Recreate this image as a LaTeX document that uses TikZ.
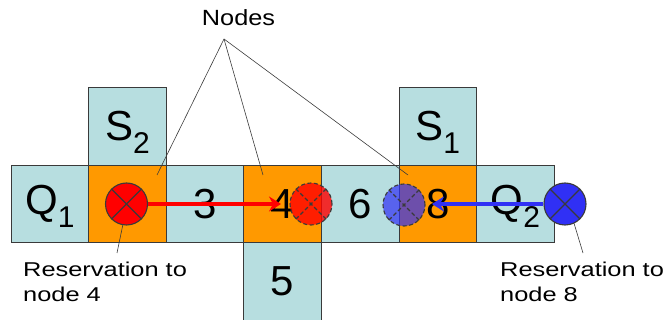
\documentclass[tikz,border=0pt]{standalone}
\usepackage{fontspec}
\setmainfont{Liberation Sans}
\usetikzlibrary{arrows.meta}
\definecolor{cellblue}{HTML}{B7DEE0}
\definecolor{cellorange}{HTML}{FF9900}
\definecolor{resred}{HTML}{FF0000}
\definecolor{resblue}{HTML}{3030F5}
\definecolor{edgegray}{HTML}{3A3A3A}
\newcommand{\cellbig}[1]{{\fontsize{42}{42}\selectfont #1}}
\newcommand{\cellsub}[1]{{\fontsize{30}{30}\selectfont\smash{\raisebox{-13pt}{#1}}}}
\newcommand{\widetxt}[2]{\scalebox{#1}[1]{\begin{tabular}{@{}l@{}}#2\end{tabular}}}
\tikzset{
  cell/.style={draw=edgegray, line width=0.8pt, minimum width=77.6pt, minimum height=77.6pt, inner sep=0pt, anchor=center},
  bluecell/.style={cell, fill=cellblue},
  orangecell/.style={cell, fill=cellorange},
  resv/.style={circle, draw=edgegray, line width=1.1pt, minimum size=42pt, inner sep=0pt},
  cross/.style={draw=edgegray, line width=1.2pt},
  ghost/.style={dash pattern=on 4pt off 2.5pt},
  pointer/.style={draw=edgegray, line width=0.6pt},
  restext/.style={font=\fontsize{20}{25}\selectfont, anchor=north west, inner sep=0pt},
  resarrow/.style={line width=3.6pt, -{Stealth[length=12pt,width=15pt,inset=4pt]}},
}
\begin{document}
\begin{tikzpicture}[x=1pt, y=-1pt]
\useasboundingbox (0,0) rectangle (667,320);
% row cells
\node[bluecell] (q1) at (49.8,203.8) {\cellbig{Q}\cellsub{1}};
\node[orangecell] (n2) at (127.4,203.8) {};
\node[bluecell] (n3) at (205,203.8) {\cellbig{3}};
\node[orangecell] (n4) at (282.6,203.8) {\cellbig{4}};
\node[bluecell] (n6) at (360.2,203.8) {\cellbig{6}};
\node[orangecell] (n8) at (437.8,203.8) {\cellbig{8}};
\node[bluecell] (q2) at (515.4,203.8) {\cellbig{Q}\cellsub{2}};
\node[bluecell] (s2) at (127.4,126.2) {\cellbig{S}\cellsub{2}};
\node[bluecell] (s1) at (437.8,126.2) {\cellbig{S}\cellsub{1}};
\node[bluecell] (n5) at (282.6,281.4) {\cellbig{5}};
% reservation circles
\node[resv, fill=resred] (r4) at (126.5,204) {};
\draw[cross] (r4.north west) -- (r4.south east) (r4.north east) -- (r4.south west);
\node[resv, fill=resblue] (r8) at (565,204) {};
\draw[cross] (r8.north west) -- (r8.south east) (r8.north east) -- (r8.south west);
\node[resv, fill=resred, fill opacity=0.8, ghost] (g4) at (311,204) {};
\draw[cross, ghost] (g4.north west) -- (g4.south east) (g4.north east) -- (g4.south west);
\node[resv, fill=resblue, fill opacity=0.7, ghost] (g8) at (404,205) {};
\draw[cross, ghost] (g8.north west) -- (g8.south east) (g8.north east) -- (g8.south west);
% arrows
\coordinate (tip4) at (281,204);
\coordinate (tip8) at (432,204);
\draw[resarrow, resred] (r4.east) -- (tip4);
\draw[resarrow, resblue] (r8.west) -- (tip8);
% Nodes label
\node[font=\fontsize{22}{26}\selectfont, inner sep=0pt, anchor=base] (nodes) at (238.5,26) {\scalebox{1.15}[1]{Nodes}};
\coordinate (apex) at (224,39);
\coordinate (p2) at (157,175);
\coordinate (p4) at (263,175);
\coordinate (p8) at (408,175);
\draw[pointer] (apex) -- (p2);
\draw[pointer] (apex) -- (p4);
\draw[pointer] (apex) -- (p8);
% reservation labels
\node[restext] (l4) at (23,259.2) {\widetxt{1.27}{Reservation to\\node 4}};
\node[restext] (l8) at (500,259.2) {\widetxt{1.27}{Reservation to\\node 8}};
\coordinate (l4top) at (117,253);
\coordinate (l8top) at (583,253);
\draw[pointer] (r4.-100) -- (l4top);
\draw[pointer] (r8.-65) -- (l8top);
\end{tikzpicture}
\end{document}
